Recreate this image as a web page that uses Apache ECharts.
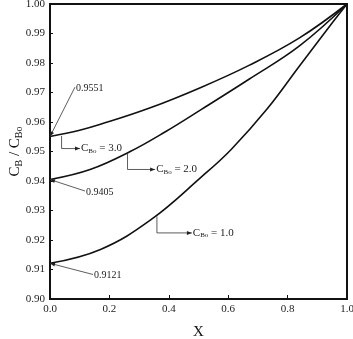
<!DOCTYPE html>
<html>
<head>
<meta charset="utf-8">
<script src="https://cdn.jsdelivr.net/npm/echarts@6/dist/echarts.min.js"></script>
<style>html,body{margin:0;padding:0;background:#fff}#c{width:353px;height:339px}</style>
</head>
<body>
<div id="c"></div>
<script>
// Data
const xTicks = [0, 0.2, 0.4, 0.6, 0.8, 1.0];
const yTicks = [0.90, 0.91, 0.92, 0.93, 0.94, 0.95, 0.96, 0.97, 0.98, 0.99, 1.00];
const x3 = [0, 0.10, 0.17, 0.34, 0.51, 0.67, 0.84, 1.0];
const y3 = [0.9551, 0.9572, 0.9592, 0.9649, 0.9718, 0.9792, 0.9885, 1.0];
const x2 = [0, 0.135, 0.27, 0.39, 0.51, 0.67, 0.84, 1.0];
const y2 = [0.9405, 0.9439, 0.9500, 0.9568, 0.9643, 0.9745, 0.9858, 1.0];
const x1 = [0, 0.17, 0.34, 0.51, 0.61, 0.73, 0.84, 0.955, 1.0];
const y1 = [0.9121, 0.9168, 0.9269, 0.9414, 0.9507, 0.9643, 0.9790, 0.9942, 1.0];
const startLabels = ['0.9551', '0.9405', '0.9121'];
const curveLabels = ['3.0', '2.0', '1.0'];

const FONT = '"Liberation Serif", "DejaVu Serif", serif';
const pair = (xs, ys) => xs.map((x, i) => [x, ys[i]]);

const chart = echarts.init(document.getElementById('c'));
const lineStyle = {color: '#111', width: 1.6};
chart.setOption({
  animation: false,
  backgroundColor: '#fff',
  grid: {left: 50, right: 6, top: 4, bottom: 40, show: true, borderColor: '#111', borderWidth: 2,
    containLabel: false, outerBoundsMode: 'none'},
  xAxis: {
    type: 'value', min: 0, max: 1, interval: 0.2,
    axisLine: {show: true, lineStyle: {color: '#111', width: 2}},
    axisTick: {show: true, inside: true, length: 4, lineStyle: {color: '#111'}},
    splitLine: {show: false},
    axisLabel: {color: '#222', fontFamily: FONT, fontSize: 11, margin: 5,
      formatter: v => v.toFixed(1)},
    name: 'X', nameLocation: 'middle', nameGap: 26, nameMoveOverlap: false,
    nameTextStyle: {color: '#111', fontFamily: FONT, fontSize: 15}
  },
  yAxis: {
    type: 'value', min: 0.90, max: 1.00, interval: 0.01,
    axisLine: {show: true, lineStyle: {color: '#111', width: 2}},
    axisTick: {show: true, inside: true, length: 3, lineStyle: {color: '#111'}},
    splitLine: {show: false},
    axisLabel: {color: '#222', fontFamily: FONT, fontSize: 11, margin: 5,
      formatter: v => v.toFixed(2)}
  },
  series: [
    {type: 'line', data: pair(x3, y3), smooth: 0.4, symbol: 'none', lineStyle},
    {type: 'line', data: pair(x2, y2), smooth: 0.4, symbol: 'none', lineStyle},
    {type: 'line', data: pair(x1, y1), smooth: 0.4, symbol: 'none', lineStyle}
  ]
});

// Annotations in data coordinates
const leaders = [
  {from: [0.084, 0.9718], to: [0, 0.9551], text: startLabels[0]},
  {from: [0.118, 0.9366], to: [0, 0.9405], text: startLabels[1]},
  {from: [0.145, 0.9083], to: [0, 0.9121], text: startLabels[2]}
];
const brackets = [
  {x: 0.039, top: 0.9553, bottom: 0.9510, right: 0.101, text: curveLabels[0]},
  {x: 0.261, top: 0.9492, bottom: 0.9439, right: 0.354, text: curveLabels[1]},
  {x: 0.360, top: 0.9280, bottom: 0.9224, right: 0.4776, text: curveLabels[2]}
];

function P(d) { return chart.convertToPixel({gridIndex: 0}, d); }
function arrowHead(tip, from, size) {
  const dx = tip[0] - from[0], dy = tip[1] - from[1];
  const L = Math.hypot(dx, dy), ux = dx / L, uy = dy / L;
  const bx = tip[0] - ux * size, by = tip[1] - uy * size;
  const w = size * 0.4;
  return {type: 'polygon', shape: {points: [tip, [bx - uy * w, by + ux * w], [bx + uy * w, by - ux * w]]},
    style: {fill: '#222'}, z: 10};
}
const g = [];
leaders.forEach(l => {
  const a = P(l.from), b = P(l.to);
  g.push({type: 'line', shape: {x1: a[0], y1: a[1], x2: b[0], y2: b[1]}, style: {stroke: '#333', lineWidth: 0.8}, z: 10});
  g.push(arrowHead(b, a, 5));
  g.push({type: 'text', x: a[0] + 1, y: a[1] + 1, style: {text: l.text, font: '10px ' + FONT, fill: '#222', textVerticalAlign: 'middle'}, z: 10});
});
brackets.forEach(b => {
  const t = P([b.x, b.top]), m = P([b.x, b.bottom]), r = P([b.right, b.bottom]);
  g.push({type: 'polyline', shape: {points: [t, m, r]}, style: {stroke: '#333', lineWidth: 0.8, fill: null}, z: 10});
  g.push(arrowHead(r, m, 5));
  g.push({type: 'text', x: r[0] + 1, y: r[1], style: {
    text: '{m|C}{s|Bo}{m| = ' + b.text + '}', textVerticalAlign: 'middle',
    rich: {m: {font: '11px ' + FONT, fill: '#222'}, s: {font: '7px ' + FONT, fill: '#222', padding: [5, 0, 0, 0]}}
  }, z: 10});
});
// Y-axis title
const yMid = P([0, 0.95]);
g.push({type: 'text', x: 15, y: yMid[1], rotation: Math.PI / 2, style: {
  text: '{m|C}{s|B}{m| / C}{s|Bo}', textAlign: 'center', textVerticalAlign: 'middle',
  rich: {m: {font: '15px ' + FONT, fill: '#111'}, s: {font: '10px ' + FONT, fill: '#111', padding: [8, 0, 0, 0]}}
}, z: 10});
chart.setOption({graphic: g});
</script>
</body>
</html>
